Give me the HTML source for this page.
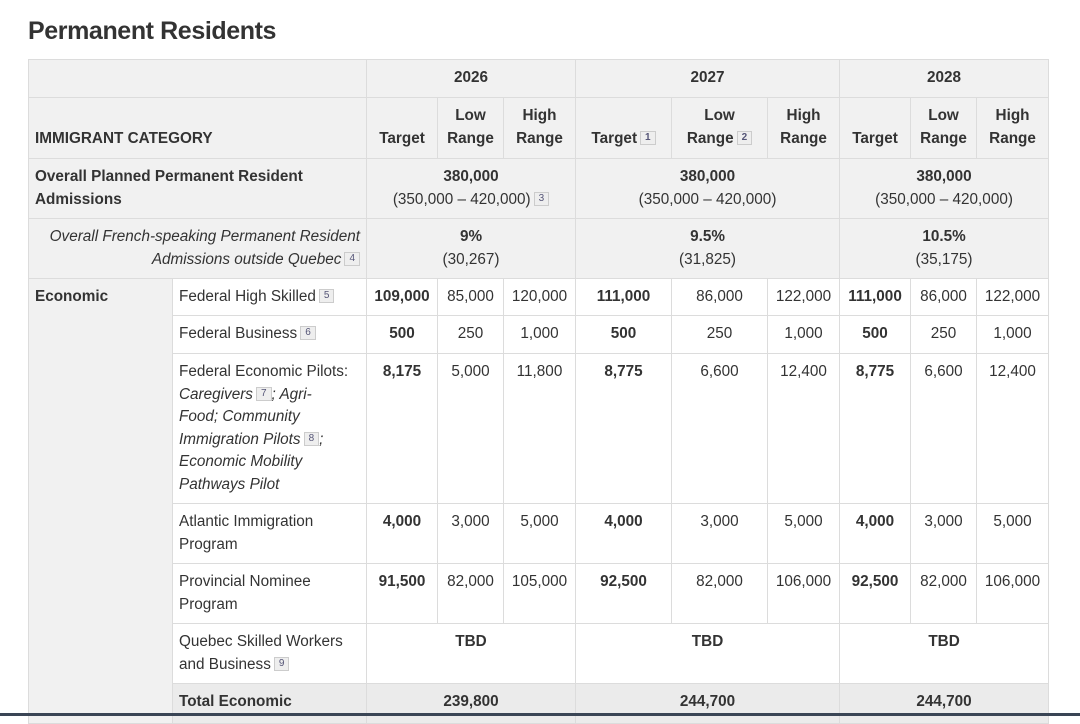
<!DOCTYPE html>
<html><head><meta charset="utf-8"><style>
body{margin:0;width:1080px;height:716px;overflow:hidden;background:#fff;font-family:"Liberation Sans",sans-serif;color:#333;position:relative}
h1{position:absolute;left:28px;top:17px;margin:0;font-size:25px;font-weight:bold;color:#333;letter-spacing:-0.4px}
table{position:absolute;left:28px;top:59px;border-collapse:collapse;table-layout:fixed;width:1021px;font-size:15.3px;line-height:22.5px}
td,th{border:1px solid #dcdcdc;padding:0 6px;overflow:hidden}
.g{background:#f1f1f1}
th{font-weight:bold;text-align:center}
.b{font-weight:bold}
.c{text-align:center}
.t{vertical-align:top;padding-top:7px}
.sup{display:inline-block;font-size:10px;line-height:12px;padding:0 4px;border:1px solid #ccc;background:#eee;color:#557;vertical-align:3px;margin-left:3px}
.i{font-style:italic}
.tot{background:#ebebeb}
.bar{position:absolute;left:0;top:713px;width:1080px;height:3px;background:#3a4555}
</style></head><body>
<h1>Permanent Residents</h1>
<table>
<colgroup><col style="width:144px"><col style="width:194px"><col style="width:71px"><col style="width:66px"><col style="width:72px"><col style="width:96px"><col style="width:96px"><col style="width:72px"><col style="width:71px"><col style="width:66px"><col style="width:72px"></colgroup>
<tr style="height:38px" class="g"><th colspan="2"></th><th colspan="3">2026</th><th colspan="3">2027</th><th colspan="3">2028</th></tr>
<tr style="height:61px" class="g"><th colspan="2" style="text-align:left;vertical-align:bottom;padding-bottom:8px">IMMIGRANT CATEGORY</th>
<th style="vertical-align:bottom;padding-bottom:8px">Target</th><th style="vertical-align:bottom;padding-bottom:8px">Low<br>Range</th><th style="vertical-align:bottom;padding-bottom:8px">High<br>Range</th>
<th style="vertical-align:bottom;padding-bottom:8px">Target<span class="sup">1</span></th><th style="vertical-align:bottom;padding-bottom:8px">Low<br>Range<span class="sup">2</span></th><th style="vertical-align:bottom;padding-bottom:8px">High<br>Range</th>
<th style="vertical-align:bottom;padding-bottom:8px">Target</th><th style="vertical-align:bottom;padding-bottom:8px">Low<br>Range</th><th style="vertical-align:bottom;padding-bottom:8px">High<br>Range</th></tr>
<tr style="height:60px" class="g"><td colspan="2" class="b t">Overall Planned Permanent Resident Admissions</td>
<td colspan="3" class="c t"><b>380,000</b><br>(350,000 – 420,000)<span class="sup">3</span></td>
<td colspan="3" class="c t"><b>380,000</b><br>(350,000 – 420,000)</td>
<td colspan="3" class="c t"><b>380,000</b><br>(350,000 – 420,000)</td></tr>
<tr style="height:60px" class="g"><td colspan="2" class="i t" style="text-align:right">Overall French-speaking Permanent Resident<br>Admissions outside Quebec<span class="sup" style="font-style:normal">4</span></td>
<td colspan="3" class="c t"><b>9%</b><br>(30,267)</td>
<td colspan="3" class="c t"><b>9.5%</b><br>(31,825)</td>
<td colspan="3" class="c t"><b>10.5%</b><br>(35,175)</td></tr>
<tr style="height:37px"><td rowspan="7" class="g b t">Economic</td><td class="t">Federal High Skilled<span class="sup">5</span></td>
<td class="c b t">109,000</td><td class="c t">85,000</td><td class="c t">120,000</td><td class="c b t">111,000</td><td class="c t">86,000</td><td class="c t">122,000</td><td class="c b t">111,000</td><td class="c t">86,000</td><td class="c t">122,000</td></tr>
<tr style="height:38px"><td class="t">Federal Business<span class="sup">6</span></td>
<td class="c b t">500</td><td class="c t">250</td><td class="c t">1,000</td><td class="c b t">500</td><td class="c t">250</td><td class="c t">1,000</td><td class="c b t">500</td><td class="c t">250</td><td class="c t">1,000</td></tr>
<tr style="height:150px"><td class="t" style="padding-bottom:6px;white-space:nowrap">Federal Economic Pilots:<br><i>Caregivers</i><span class="sup">7</span><i>; Agri-</i><br><i>Food; Community</i><br><i>Immigration Pilots</i><span class="sup">8</span><i>;</i><br><i>Economic Mobility</i><br><i>Pathways Pilot</i></td>
<td class="c b t">8,175</td><td class="c t">5,000</td><td class="c t">11,800</td><td class="c b t">8,775</td><td class="c t">6,600</td><td class="c t">12,400</td><td class="c b t">8,775</td><td class="c t">6,600</td><td class="c t">12,400</td></tr>
<tr style="height:60px"><td class="t">Atlantic Immigration Program</td>
<td class="c b t">4,000</td><td class="c t">3,000</td><td class="c t">5,000</td><td class="c b t">4,000</td><td class="c t">3,000</td><td class="c t">5,000</td><td class="c b t">4,000</td><td class="c t">3,000</td><td class="c t">5,000</td></tr>
<tr style="height:60px"><td class="t">Provincial Nominee Program</td>
<td class="c b t">91,500</td><td class="c t">82,000</td><td class="c t">105,000</td><td class="c b t">92,500</td><td class="c t">82,000</td><td class="c t">106,000</td><td class="c b t">92,500</td><td class="c t">82,000</td><td class="c t">106,000</td></tr>
<tr style="height:60px"><td class="t">Quebec Skilled Workers and Business<span class="sup">9</span></td>
<td colspan="3" class="c b t">TBD</td><td colspan="3" class="c b t">TBD</td><td colspan="3" class="c b t">TBD</td></tr>
<tr style="height:40px" class="tot"><td class="b t">Total Economic</td>
<td colspan="3" class="c b t">239,800</td><td colspan="3" class="c b t">244,700</td><td colspan="3" class="c b t">244,700</td></tr>
</table>
<div class="bar"></div>
</body></html>
